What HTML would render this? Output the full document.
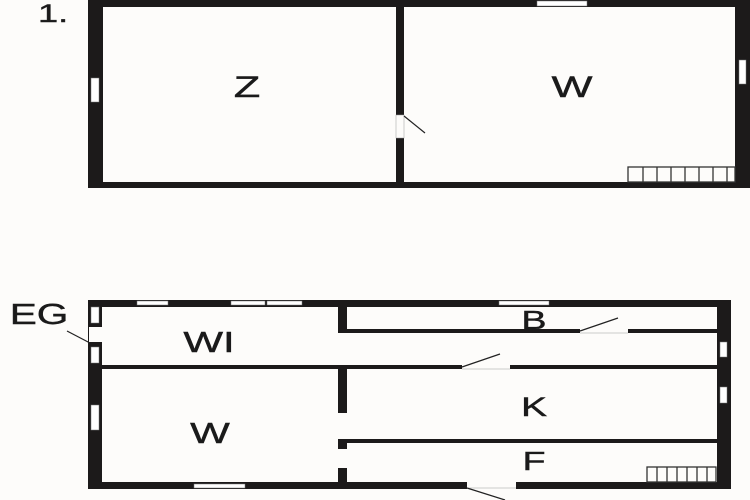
<!DOCTYPE html>
<html><head><style>
html,body{margin:0;padding:0;background:#fdfcfa;}
svg{display:block;}
text{font-family:"Liberation Sans",sans-serif;fill:#1a1a1a;stroke:#1a1a1a;stroke-width:0.4;}
</style></head><body>
<svg width="750" height="500" viewBox="0 0 750 500" xmlns="http://www.w3.org/2000/svg">
<rect width="750" height="500" fill="#fdfcfa"/>
<rect x="88" y="0" width="662" height="188" fill="#1c1a1a"/>
<rect x="103" y="7" width="632" height="175" fill="#fdfcfa"/>
<rect x="396" y="7" width="8" height="175" fill="#1c1a1a"/>
<rect x="396" y="115" width="8" height="23" fill="#fdfcfa" stroke="#999" stroke-width="0.5"/>
<line x1="404" y1="116" x2="425" y2="133" stroke="#222" stroke-width="1.2"/>
<rect x="537" y="1" width="50" height="5" fill="#fff" stroke="#777" stroke-width="0.5"/>
<rect x="91" y="78" width="8" height="24" fill="#fff" stroke="#777" stroke-width="0.5"/>
<rect x="739" y="60" width="7" height="24" fill="#fff" stroke="#777" stroke-width="0.5"/>
<g fill="none" stroke="#333" stroke-width="1.3">
<rect x="628" y="167" width="107" height="15"/>
<line x1="643" y1="167" x2="643" y2="182"/><line x1="657" y1="167" x2="657" y2="182"/>
<line x1="671" y1="167" x2="671" y2="182"/><line x1="685" y1="167" x2="685" y2="182"/>
<line x1="699" y1="167" x2="699" y2="182"/><line x1="713" y1="167" x2="713" y2="182"/>
<line x1="727" y1="167" x2="727" y2="182"/>
</g>
<text transform="translate(38,22) scale(1.45,1)" font-size="25">1.</text>
<text transform="translate(247,97) scale(1.45,1)" font-size="30" text-anchor="middle">Z</text>
<text transform="translate(572,97) scale(1.45,1)" font-size="30" text-anchor="middle">W</text>

<rect x="88" y="300" width="643" height="189" fill="#1c1a1a"/>
<rect x="102" y="307" width="615" height="175" fill="#fdfcfa"/>
<rect x="102" y="365" width="615" height="4" fill="#1c1a1a"/>
<rect x="462" y="364" width="48" height="6" fill="#fdfcfa"/>
<line x1="462" y1="369" x2="510" y2="369" stroke="#bbb" stroke-width="0.8"/>
<line x1="462" y1="367" x2="500" y2="354" stroke="#222" stroke-width="1.2"/>
<rect x="338" y="307" width="9" height="26" fill="#1c1a1a"/>
<rect x="338" y="329" width="379" height="4" fill="#1c1a1a"/>
<rect x="580" y="328" width="48" height="6" fill="#fdfcfa"/>
<line x1="580" y1="333" x2="628" y2="333" stroke="#bbb" stroke-width="0.8"/>
<line x1="580" y1="331" x2="618" y2="318" stroke="#222" stroke-width="1.2"/>
<rect x="338" y="369" width="9" height="44" fill="#1c1a1a"/>
<rect x="338" y="439" width="9" height="10" fill="#1c1a1a"/>
<rect x="338" y="468" width="9" height="14" fill="#1c1a1a"/>
<rect x="347" y="439" width="370" height="4" fill="#1c1a1a"/>
<rect x="467" y="482" width="49" height="8" fill="#fdfcfa"/>
<line x1="467" y1="488" x2="516" y2="488" stroke="#bbb" stroke-width="0.8"/>
<line x1="467" y1="488" x2="505" y2="500" stroke="#222" stroke-width="1.2"/>
<g fill="#fff" stroke="#777" stroke-width="0.5">
<rect x="137" y="301" width="31" height="4"/>
<rect x="231" y="301" width="34" height="4"/>
<rect x="267" y="301" width="35" height="4"/>
<rect x="499" y="301" width="50" height="4"/>
<rect x="194" y="484" width="51" height="4"/>
<rect x="91" y="307" width="8" height="16"/>
<rect x="91" y="347" width="8" height="16"/>
<rect x="91" y="405" width="8" height="25"/>
<rect x="720" y="342" width="7" height="15"/>
<rect x="720" y="387" width="7" height="16"/>
</g>
<rect x="89" y="327" width="13" height="15" fill="#fdfcfa"/>
<line x1="67" y1="331" x2="90" y2="343" stroke="#222" stroke-width="1.2"/>
<g fill="none" stroke="#333" stroke-width="1.3">
<rect x="647" y="467" width="69" height="15"/>
<line x1="657" y1="467" x2="657" y2="482"/><line x1="667" y1="467" x2="667" y2="482"/>
<line x1="677" y1="467" x2="677" y2="482"/><line x1="687" y1="467" x2="687" y2="482"/>
<line x1="697" y1="467" x2="697" y2="482"/><line x1="707" y1="467" x2="707" y2="482"/>
</g>
<text transform="translate(39,324) scale(1.4,1)" font-size="29" text-anchor="middle">EG</text>
<text transform="translate(209,352) scale(1.45,1)" font-size="29" text-anchor="middle">WI</text>
<text transform="translate(534,329) scale(1.45,1)" font-size="26" text-anchor="middle">B</text>
<text transform="translate(210,443) scale(1.45,1)" font-size="29" text-anchor="middle">W</text>
<text transform="translate(534,416) scale(1.45,1)" font-size="27" text-anchor="middle">K</text>
<text transform="translate(534,470) scale(1.45,1)" font-size="26" text-anchor="middle">F</text>
</svg>
</body></html>
